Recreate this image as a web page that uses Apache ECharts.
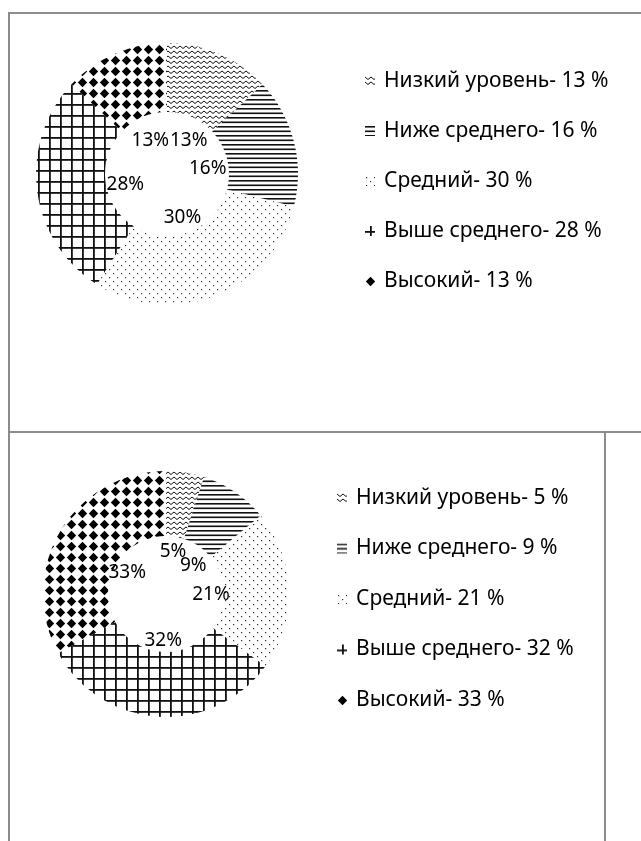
<!DOCTYPE html>
<html>
<head>
<meta charset="utf-8">
<script src="https://cdn.jsdelivr.net/npm/echarts@6/dist/echarts.min.js"></script>
<style>
  html, body { margin: 0; padding: 0; background: #fff; width: 641px; height: 841px; overflow: hidden; }
  .box { position: absolute; border: 2px solid #8c8c8c; box-sizing: border-box; }
  .chart { position: absolute; left: 0; width: 641px; }
</style>
</head>
<body>
<div class="box" style="left:8px; top:12px; width:700px; height:421px;"></div>
<div class="box" style="left:8px; top:431px; width:598px; height:500px;"></div>
<div id="chartTop" class="chart" style="top:0; height:431px;"></div>
<div id="chartBottom" class="chart" style="top:431px; height:410px;"></div>
<script>
const levels = ["Низкий уровень", "Ниже среднего", "Средний", "Выше среднего", "Высокий"];
const topValues = [13, 16, 30, 28, 13];
const bottomValues = [5, 9, 21, 32, 33];
const patternKinds = ["zigzag", "stripes", "dots", "grid", "diamonds"];

// black-and-white hatch fills, like the printed Excel donut
function makePattern(kind) {
  const c = document.createElement("canvas");
  const ctx = c.getContext("2d");
  if (kind === "zigzag") {
    c.width = 6; c.height = 5;
    ctx.strokeStyle = "#111";
    ctx.lineWidth = 1;
    ctx.beginPath();
    ctx.moveTo(0, 1); ctx.lineTo(3, 3.5); ctx.lineTo(6, 1);
    ctx.stroke();
  } else if (kind === "stripes") {
    c.width = 4; c.height = 9;
    ctx.fillStyle = "#111";
    ctx.fillRect(0, 0, 4, 1.6);
    ctx.fillRect(0, 4.5, 4, 1.6);
  } else if (kind === "dots") {
    c.width = 8; c.height = 8;
    ctx.fillStyle = "#333";
    ctx.fillRect(1, 1, 1.2, 1.2);
    ctx.fillRect(5, 5, 1.2, 1.2);
  } else if (kind === "grid") {
    c.width = 11; c.height = 11;
    ctx.fillStyle = "#111";
    ctx.fillRect(5, 0, 1.8, 11);
    ctx.fillRect(0, 5, 11, 1.8);
  } else {
    c.width = 11; c.height = 11;
    ctx.fillStyle = "#000";
    ctx.beginPath();
    ctx.moveTo(5.5, 0.8); ctx.lineTo(10.2, 5.5); ctx.lineTo(5.5, 10.2); ctx.lineTo(0.8, 5.5);
    ctx.closePath();
    ctx.fill();
  }
  return { image: c, repeat: "repeat" };
}

const patterns = patternKinds.map(makePattern);

// the labels in the original were dragged a little by hand
const topLabelNudge = { 0: [5, 0] };
const bottomLabelNudge = { 1: [2, 7] };

function buildOption(values, center, radius, labelCenter, labelRadius, nudge, legendLeft, legendTop, legendGap) {
  const ringData = levels.map((name, i) => ({
    name: name,
    value: values[i],
    itemStyle: { color: patterns[i] },
  }));
  // percent labels sit in the hole, at the middle angle of each slice
  const total = values.reduce((a, b) => a + b, 0);
  let acc = 0;
  const labelData = values.map((v, i) => {
    const mid = acc + v / 2;
    acc += v;
    const item = { value: [labelRadius, (mid / total) * 100, v] };
    if (nudge[i]) item.label = { offset: nudge[i] };
    return item;
  });
  return {
    animation: false,
    legend: {
      orient: "vertical",
      left: legendLeft,
      top: legendTop,
      itemWidth: 10,
      itemHeight: 10,
      itemGap: legendGap,
      icon: "rect",
      selectedMode: false,
      data: levels,
      formatter: (name) => name + "- " + values[levels.indexOf(name)] + " %",
      textStyle: {
        fontFamily: "Noto Sans",
        fontSize: 21,
        lineHeight: 24,
        color: "#000",
        padding: [0, 0, 0, 4],
      },
    },
    polar: { center: labelCenter, radius: 84 },
    angleAxis: { type: "value", min: 0, max: 100, startAngle: 90, clockwise: true, show: false },
    radiusAxis: { type: "value", min: 0, max: 84, show: false },
    series: [
      {
        type: "pie",
        center: center,
        radius: radius,
        startAngle: 90,
        clockwise: true,
        silent: true,
        label: { show: false },
        labelLine: { show: false },
        itemStyle: { borderWidth: 0 },
        data: ringData,
      },
      {
        type: "scatter",
        coordinateSystem: "polar",
        symbolSize: 1,
        silent: true,
        itemStyle: { color: "rgba(0,0,0,0)", opacity: 1 },
        encode: { radius: 0, angle: 1 },
        label: {
          show: true,
          position: "inside",
          formatter: (p) => p.value[2] + "%",
          fontFamily: "Noto Sans",
          fontSize: 19,
          color: "#000",
          opacity: 1,
        },
        data: labelData,
      },
    ],
  };
}

const topChart = echarts.init(document.getElementById("chartTop"));
topChart.setOption(buildOption(topValues, [167, 174], [62, 131], [167, 179], 42, topLabelNudge, 360, 64, 26));

const bottomChart = echarts.init(document.getElementById("chartBottom"));
bottomChart.setOption(buildOption(bottomValues, [166, 163], [58, 123], [166, 165], 45, bottomLabelNudge, 332, 50, 26.5));
</script>
</body>
</html>
